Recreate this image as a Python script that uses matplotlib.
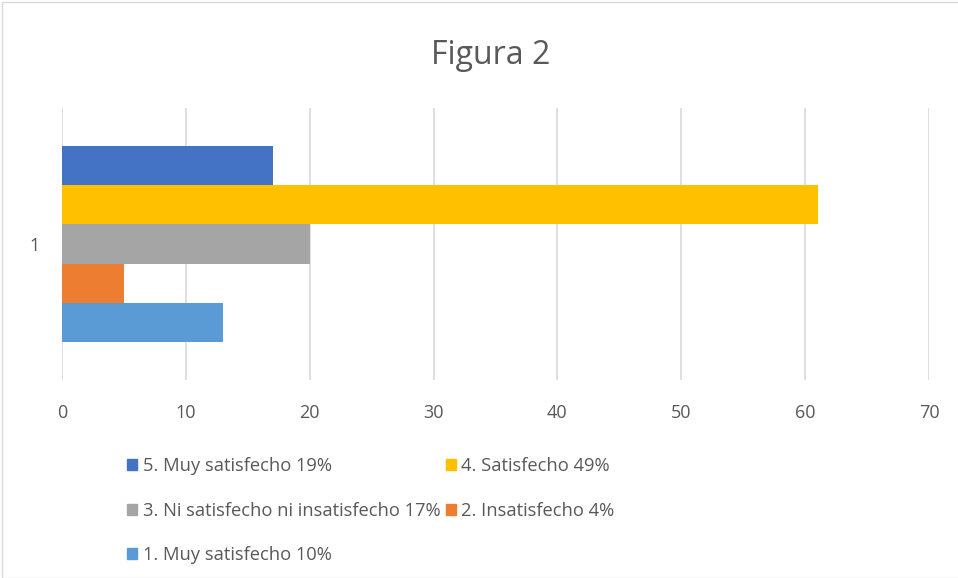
import matplotlib
matplotlib.use("Agg")
import matplotlib.pyplot as plt
from matplotlib.patches import Rectangle, Patch

plt.rcParams['font.family'] = ['Open Sans', 'DejaVu Sans']

categories = ["1"]
series_names = ["5. Muy satisfecho 19%", "4. Satisfecho 49%",
                "3. Ni satisfecho ni insatisfecho 17%", "2. Insatisfecho 4%",
                "1. Muy satisfecho 10%"]
series_values = [17, 61, 20, 5, 13]
colors = ["#4472C4", "#FFC000", "#A5A5A5", "#ED7D31", "#5B9BD5"]
xticks = [0, 10, 20, 30, 40, 50, 60, 70]

fig = plt.figure(figsize=(9.58, 5.78), dpi=100)
ax = fig.add_axes([62/958, 1-380/578, (929-62)/958, (380-108)/578])

h = 0.1434
n = len(series_values)
for i, (name, v, c) in enumerate(zip(series_names, series_values, colors)):
  y = (n-1)/2*h - i*h
  ax.barh(y, v, height=h, color=c, label=name, zorder=3)

ax.set_xlim(0, 70)
ax.set_ylim(-0.5, 0.5)
ax.set_xticks(xticks)
ax.set_yticks([0])
ax.set_yticklabels(categories)
ax.grid(axis="x", color="#D9D9D9", linewidth=1.2, zorder=0)
for s in ax.spines.values():
  s.set_visible(False)
ax.tick_params(length=0, colors="#595959", labelsize=13)
ax.tick_params(axis="x", pad=17)
ax.tick_params(axis="y", pad=16)

fig.text(0.512, 1-55/578, "Figura 2", ha="center", va="center",
         fontsize=23, color="#595959")

handles = [Patch(color=c) for c in colors]
order = [0, 2, 4, 1, 3]
leg = fig.legend([handles[k] for k in order], [series_names[k] for k in order],
                 ncol=2, loc="upper left", bbox_to_anchor=(118/958, 1-448/578),
                 frameon=False, fontsize=13.2, handlelength=0.55, handleheight=0.55,
                 handletextpad=0.3, columnspacing=0.3, labelspacing=1.45,
                 borderpad=0)
for t in leg.get_texts():
  t.set_color("#595959")

fig.patches.append(Rectangle((2/958, 0), 1, 1-2/578, transform=fig.transFigure,
                             fill=False, edgecolor="#D9D9D9", linewidth=1))

fig.savefig("out.png", dpi=100)
